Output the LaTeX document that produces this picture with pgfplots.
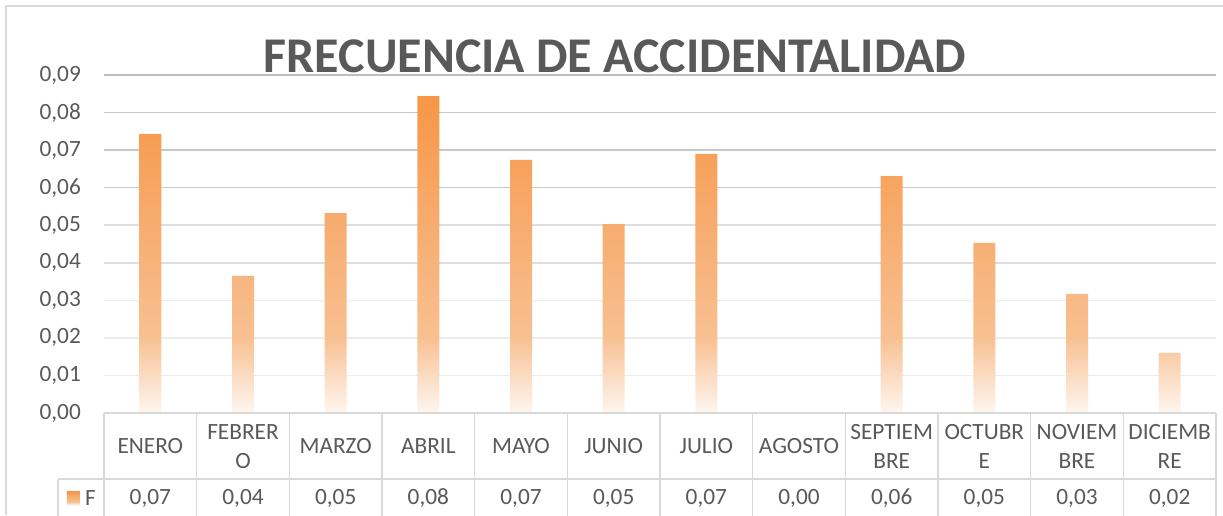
\documentclass[border=0pt]{standalone}
\usepackage{fontspec}
\setmainfont{Carlito}
\usepackage{pgfplots}
\pgfplotsset{compat=1.18}
\definecolor{txt}{RGB}{89,89,89}
\definecolor{bord}{RGB}{217,217,217}
\definecolor{gridA}{RGB}{200,200,200}
\definecolor{gridB}{RGB}{222,222,222}
\definecolor{gridC}{RGB}{236,236,236}
\definecolor{orT}{RGB}{247,150,70}
\definecolor{orM}{RGB}{247,172,110}
\definecolor{orL}{RGB}{248,192,145}
\definecolor{orW}{RGB}{254,246,240}
\pgfdeclareverticalshading{barshade}{100bp}{color(0bp)=(orW); color(25bp)=(orW); color(37bp)=(orL); color(55bp)=(orM); color(75bp)=(orT); color(100bp)=(orT)}
\newcommand{\lbl}{\fontsize{23.3}{29}\selectfont\color{txt}}
\begin{document}
\begin{tikzpicture}
\begin{axis}[
  scale only axis, width=1112pt, height=338pt,
  xmin=-0.5, xmax=11.5, ymin=0, ymax=0.09,
  axis line style={draw=none},
  major tick length=0pt,
  xtick=\empty,
  ytick={0,0.01,0.02,0.03,0.04,0.05,0.06,0.07,0.08,0.09},
  yticklabels={{0,00},{0,01},{0,02},{0,03},{0,04},{0,05},{0,06},{0,07},{0,08},{0,09}},
  scaled y ticks=false,
  yticklabel style={anchor=east, inner sep=0pt, xshift=-23pt, font=\lbl},
  clip=false,
]
\coordinate (O) at (rel axis cs:0,0);
\draw[gridC, line width=1.5pt] (axis cs:-0.5,0.01) -- (axis cs:11.5,0.01);
\draw[gridC, line width=1.5pt] (axis cs:-0.5,0.02) -- (axis cs:11.5,0.02);
\draw[gridC, line width=1.5pt] (axis cs:-0.5,0.03) -- (axis cs:11.5,0.03);
\draw[gridB, line width=1.5pt] (axis cs:-0.5,0.04) -- (axis cs:11.5,0.04);
\draw[gridB, line width=1.5pt] (axis cs:-0.5,0.05) -- (axis cs:11.5,0.05);
\draw[gridA, line width=1.5pt] (axis cs:-0.5,0.06) -- (axis cs:11.5,0.06);
\draw[gridA, line width=1.5pt] (axis cs:-0.5,0.07) -- (axis cs:11.5,0.07);
\draw[gridA, line width=1.5pt] (axis cs:-0.5,0.08) -- (axis cs:11.5,0.08);
\draw[gridA!95!black, line width=1.5pt] (axis cs:-0.5,0.09) -- (axis cs:11.5,0.09);
% AGOSTO (7) = 0.00, draws no bar
\addplot[ybar, bar width=22pt, draw=none, shade, shading=barshade] coordinates {
  (0,0.0743) (1,0.0365) (2,0.0532) (3,0.0844) (4,0.0674) (5,0.0503)
  (6,0.0690) (8,0.0631) (9,0.0453) (10,0.0317) (11,0.0160)
};
\end{axis}
\begin{scope}[shift={(O)}]
\begin{scope}[x=1pt, y=1pt, shift={(-104,-102)}]
% outer chart border
\draw[bord, line width=1.5pt] (6,0) -- (6,509) -- (1223,509);
% title
\node[anchor=base, inner sep=0pt, text=txt, font=\fontsize{50}{52}\selectfont\bfseries] at (615,443) {FRECUENCIA DE ACCIDENTALIDAD};
% data table grid
\draw[bord, line width=1.5pt] (104,102) -- (1216,102);
\draw[bord, line width=1.5pt] (58,36) -- (1216,36);
\draw[bord, line width=1.5pt] (58,36) -- (58,-2);
\foreach \k in {0,...,12} {
  \draw[bord, line width=1.5pt] ({104+92.667*\k},102) -- ({104+92.667*\k},-2);
}
% month names
\foreach \k/\m in {0/ENERO,1/{FEBRER\\O},2/MARZO,3/ABRIL,4/MAYO,5/JUNIO,6/JULIO,7/AGOSTO,8/{SEPTIEM\\BRE},9/{OCTUBR\\E},10/{NOVIEM\\BRE},11/{DICIEMB\\RE}} {
  \node[align=center, inner sep=0pt, font=\lbl] at ({104+92.667*(\k+0.5)},68.5) {\m};
}
% values row
\foreach \k/\v in {0/{0,07},1/{0,04},2/{0,05},3/{0,08},4/{0,07},5/{0,05},6/{0,07},7/{0,00},8/{0,06},9/{0,05},10/{0,03},11/{0,02}} {
  \node[inner sep=0pt, font=\lbl] at ({104+92.667*(\k+0.5)},17) {\v};
}
% legend key
\shade[shading=barshade] (67,10) rectangle (80,24);
\node[inner sep=0pt, font=\lbl] at (90.5,17) {F};
\pgfresetboundingbox
\path[use as bounding box] (0,0) rectangle (1223,515);
\end{scope}
\end{scope}
\end{tikzpicture}
\end{document}
